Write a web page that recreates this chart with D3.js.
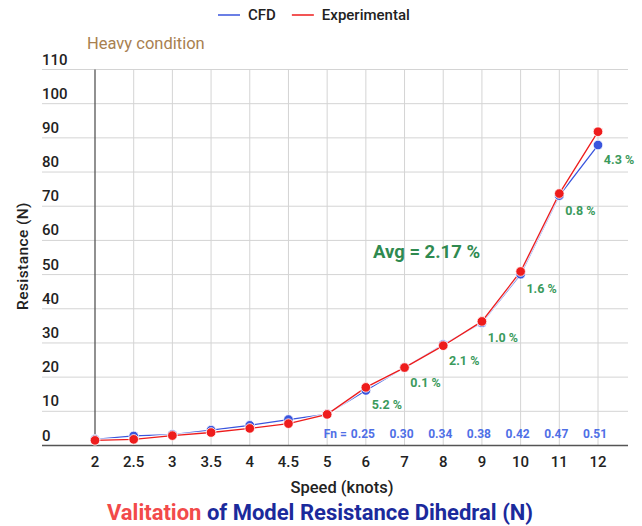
<!DOCTYPE html>
<meta charset="utf-8">
<style>
body {
  margin: 0;
  font-family: Roboto, sans-serif;
  background: #fff;
}
.grid line {
  stroke: #d4d4d4;
  stroke-width: 1;
}
.tick-label {
  font-size: 15px;
  font-weight: 500;
  fill: #222;
}
.pct {
  font-size: 12.5px;
  font-weight: bold;
  fill: #3b9a5c;
}
.fn {
  font-size: 12px;
  font-weight: bold;
  fill: #4f6fe6;
}
</style>
<body>
<div id="chart"></div>
<script src="https://d3js.org/d3.v7.min.js"></script>
<script>
// speeds (knots) as categories
var speeds = ["2", "2.5", "3", "3.5", "4", "4.5", "5", "6", "7", "8", "9", "10", "11", "12"];

// resistance (N)
var cfd = [1.8, 2.8, 3.2, 4.5, 5.9, 7.6, 9.2, 16.1, 22.8, 29.5, 35.9, 50.1, 73.1, 87.9];
var experimental = [1.5, 1.8, 2.9, 3.8, 5.0, 6.4, 9.1, 17.0, 22.8, 29.2, 36.3, 50.9, 73.7, 91.8];

// error labels and Froude numbers, from 6 knots on
var errSpeeds = ["6", "7", "8", "9", "10", "11", "12"];
var errLabels = ["5.2 %", "0.1 %", "2.1 %", "1.0 %", "1.6 %", "0.8 %", "4.3 %"];
var fnLabels = ["0.25", "0.30", "0.34", "0.38", "0.42", "0.47", "0.51"];

var yTicks = [0, 10, 20, 30, 40, 50, 60, 70, 80, 90, 100, 110];

var width = 642,
    height = 526;

var x = d3.scalePoint()
    .domain(speeds)
    .range([95, 598]);

var y = d3.scaleLinear()
    .domain([0, 110])
    .range([445.5, 69.5]);

var svg = d3.select("#chart").append("svg")
    .attr("width", width)
    .attr("height", height);

// horizontal grid
svg.append("g")
    .attr("class", "grid")
  .selectAll("line")
    .data(yTicks.slice(1))
  .enter().append("line")
    .attr("x1", 42)
    .attr("x2", 628)
    .attr("y1", function(d) { return y(d); })
    .attr("y2", function(d) { return y(d); });

// vertical grid
svg.append("g")
    .attr("class", "grid")
  .selectAll("line")
    .data(speeds.slice(1))
  .enter().append("line")
    .attr("x1", function(d) { return x(d); })
    .attr("x2", function(d) { return x(d); })
    .attr("y1", y(110))
    .attr("y2", y(0));

// axis lines
svg.append("line")
    .attr("x1", x("2")).attr("x2", x("2"))
    .attr("y1", y(110)).attr("y2", y(0))
    .attr("stroke", "#555").attr("stroke-width", 1.3);

svg.append("line")
    .attr("x1", 42).attr("x2", 628)
    .attr("y1", y(0)).attr("y2", y(0))
    .attr("stroke", "#555").attr("stroke-width", 1.3);

// y tick labels sit above their gridline
svg.append("g")
  .selectAll("text")
    .data(yTicks)
  .enter().append("text")
    .attr("class", "tick-label")
    .attr("x", 42)
    .attr("y", function(d) { return y(d) - 5; })
    .text(function(d) { return d; });

// x tick labels
svg.append("g")
  .selectAll("text")
    .data(speeds)
  .enter().append("text")
    .attr("class", "tick-label")
    .attr("x", function(d) { return x(d); })
    .attr("y", 467)
    .attr("text-anchor", "middle")
    .text(function(d) { return d; });

// axis titles
svg.append("text")
    .attr("x", 342)
    .attr("y", 493)
    .attr("text-anchor", "middle")
    .style("font-size", "16.5px")
    .style("font-weight", "500")
    .style("fill", "#222")
    .text("Speed (knots)");

svg.append("text")
    .attr("transform", "translate(28,256) rotate(-90)")
    .attr("text-anchor", "middle")
    .style("font-size", "15.5px")
    .style("font-weight", "500")
    .style("letter-spacing", "0.4px")
    .style("fill", "#222")
    .text("Resistance (N)");

svg.append("text")
    .attr("x", 87)
    .attr("y", 49)
    .style("font-size", "16.5px")
    .style("fill", "#a88050")
    .text("Heavy condition");

// series
var series = [
  {name: "CFD", values: cfd, color: "#3a55dd"},
  {name: "Experimental", values: experimental, color: "#ee1c1c"}
];

var line = d3.line()
    .x(function(d, i) { return x(speeds[i]); })
    .y(function(d) { return y(d); });

series.forEach(function(s) {
  svg.append("path")
      .datum(s.values)
      .attr("fill", "none")
      .attr("stroke", "#fff")
      .attr("stroke-opacity", 0.8)
      .attr("stroke-width", 3.5)
      .attr("d", line);
  svg.append("path")
      .datum(s.values)
      .attr("fill", "none")
      .attr("stroke", s.color)
      .attr("stroke-width", 1.3)
      .attr("d", line);
});

series.forEach(function(s) {
  svg.append("g")
    .selectAll("circle")
      .data(s.values)
    .enter().append("circle")
      .attr("cx", function(d, i) { return x(speeds[i]); })
      .attr("cy", function(d) { return y(d); })
      .attr("r", 4.8)
      .attr("fill", s.color)
      .attr("stroke", "#fff")
      .attr("stroke-width", 0.8);
});

// error % labels under each point pair
svg.append("g")
  .selectAll("text")
    .data(errLabels)
  .enter().append("text")
    .attr("class", "pct")
    .attr("x", function(d, i) { return x(errSpeeds[i]) + 21; })
    .attr("y", function(d, i) {
      var k = speeds.indexOf(errSpeeds[i]);
      return y(Math.min(cfd[k], experimental[k])) + 19;
    })
    .attr("text-anchor", "middle")
    .text(function(d) { return d; });

svg.append("text")
    .attr("x", 373)
    .attr("y", 258)
    .style("font-size", "18.5px")
    .style("font-weight", "bold")
    .style("fill", "#2f8a50")
    .text("Avg = 2.17 %");

// Froude numbers along the bottom
svg.append("g")
  .selectAll("text")
    .data(fnLabels)
  .enter().append("text")
    .attr("class", "fn")
    .attr("x", function(d, i) { return x(errSpeeds[i]) - 3; })
    .attr("y", 438)
    .attr("text-anchor", "middle")
    .text(function(d) { return d; });

svg.append("text")
    .attr("class", "fn")
    .attr("x", x(errSpeeds[0]) - 19)
    .attr("y", 438)
    .attr("text-anchor", "end")
    .text("Fn =");

// legend
var legend = svg.append("g").attr("transform", "translate(218,15)");
var lx = 0;
series.forEach(function(s) {
  legend.append("line")
      .attr("x1", lx).attr("x2", lx + 22)
      .attr("y1", 0).attr("y2", 0)
      .attr("stroke", s.color).attr("stroke-width", 1.5);
  var t = legend.append("text")
      .attr("x", lx + 30)
      .attr("y", 5)
      .style("font-size", "15px")
      .style("font-weight", "500")
      .style("fill", "#222")
      .text(s.name);
  lx += 30 + t.node().getComputedTextLength() + 16;
});

// title
var title = svg.append("text")
    .attr("x", 320)
    .attr("y", 520)
    .attr("text-anchor", "middle")
    .style("font-size", "22px")
    .style("font-weight", "bold");
title.append("tspan").style("fill", "#f24a4a").text("Valitation");
title.append("tspan").style("fill", "#1b2a9c").text(" of Model Resistance Dihedral (N)");
</script>
</body>
